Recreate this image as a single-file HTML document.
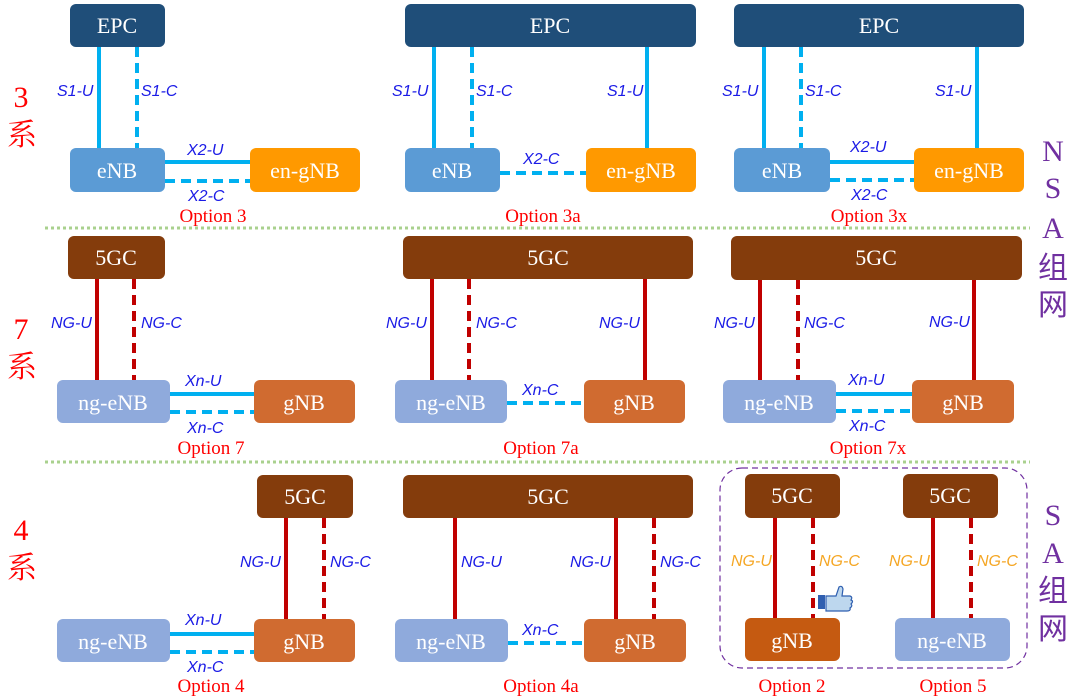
<!DOCTYPE html>
<html><head><meta charset="utf-8"><style>
html,body{margin:0;padding:0;background:#fff}
svg{display:block}
.bt{font-family:"Liberation Serif",serif;font-size:22px;fill:#fff;text-anchor:middle}
.lb{font-family:"Liberation Sans",sans-serif;font-style:italic;font-size:16px;fill:#1a1ae6}
.lo{font-family:"Liberation Sans",sans-serif;font-style:italic;font-size:16px;fill:#f5a623}
.op{font-family:"Liberation Serif",serif;font-size:19px;fill:#f00;text-anchor:middle}
.sd{font-family:"Liberation Serif","Noto Serif CJK SC",serif;font-size:30px;fill:#f00;text-anchor:middle}
.pu{font-family:"Liberation Serif","Noto Sans CJK SC",serif;font-size:30px;fill:#7030a0;text-anchor:middle}
</style></head><body>
<svg width="1080" height="698" viewBox="0 0 1080 698" xmlns="http://www.w3.org/2000/svg">
<g stroke="#a9d18e" stroke-width="3" stroke-dasharray="3 3">
<line x1="45" y1="228" x2="1030" y2="228"/><line x1="45" y1="462" x2="1030" y2="462"/>
</g>
<rect x="720" y="468" width="307" height="200" rx="22" fill="none" stroke="#7030a0" stroke-width="1.2" stroke-dasharray="6 4"/>
<g stroke="#00b0f0" stroke-width="4">
<line x1="99" y1="47" x2="99" y2="148"/><line x1="434" y1="47" x2="434" y2="148"/><line x1="647" y1="47" x2="647" y2="148"/>
<line x1="764" y1="47" x2="764" y2="148"/><line x1="977" y1="47" x2="977" y2="148"/>
<line x1="165" y1="162" x2="250" y2="162"/><line x1="830" y1="162" x2="914" y2="162"/>
<line x1="170" y1="394" x2="255" y2="394"/><line x1="836" y1="394" x2="912" y2="394"/>
<line x1="170" y1="634" x2="255" y2="634"/>
</g>
<g stroke="#00b0f0" stroke-width="4" stroke-dasharray="10 6">
<line x1="137" y1="47" x2="137" y2="148"/><line x1="472" y1="47" x2="472" y2="148"/><line x1="801" y1="47" x2="801" y2="148"/>
<line x1="165" y1="181" x2="250" y2="181"/><line x1="500" y1="173" x2="586" y2="173"/><line x1="830" y1="180" x2="914" y2="180"/>
<line x1="170" y1="412" x2="255" y2="412"/><line x1="507" y1="403" x2="584" y2="403"/><line x1="836" y1="411" x2="912" y2="411"/>
<line x1="170" y1="652" x2="255" y2="652"/><line x1="508" y1="643" x2="584" y2="643"/>
</g>
<g stroke="#c00000" stroke-width="4">
<line x1="97" y1="279" x2="97" y2="380"/><line x1="432" y1="279" x2="432" y2="380"/><line x1="645" y1="279" x2="645" y2="380"/>
<line x1="760" y1="279" x2="760" y2="380"/><line x1="974" y1="279" x2="974" y2="380"/>
<line x1="286" y1="518" x2="286" y2="620"/><line x1="455" y1="518" x2="455" y2="620"/><line x1="616" y1="518" x2="616" y2="620"/>
<line x1="775" y1="518" x2="775" y2="618"/><line x1="933" y1="518" x2="933" y2="618"/>
</g>
<g stroke="#c00000" stroke-width="4" stroke-dasharray="10 6">
<line x1="134" y1="279" x2="134" y2="380"/><line x1="469" y1="279" x2="469" y2="380"/><line x1="798" y1="279" x2="798" y2="380"/>
<line x1="324" y1="518" x2="324" y2="620"/><line x1="654" y1="518" x2="654" y2="620"/>
<line x1="813" y1="518" x2="813" y2="618"/><line x1="971" y1="518" x2="971" y2="618"/>
</g>
<g fill="#1f4e79">
<rect x="70" y="4" width="95" height="43" rx="6"/><rect x="405" y="4" width="291" height="43" rx="6"/><rect x="734" y="4" width="290" height="43" rx="6"/>
</g>
<g fill="#5b9bd5">
<rect x="70" y="148" width="95" height="44" rx="6"/><rect x="405" y="148" width="95" height="44" rx="6"/><rect x="734" y="148" width="96" height="44" rx="6"/>
</g>
<g fill="#ff9900">
<rect x="250" y="148" width="110" height="44" rx="6"/><rect x="586" y="148" width="110" height="44" rx="6"/><rect x="914" y="148" width="110" height="44" rx="6"/>
</g>
<g fill="#843c0c">
<rect x="68" y="236" width="97" height="43" rx="6"/><rect x="403" y="236" width="290" height="43" rx="6"/><rect x="731" y="236" width="291" height="44" rx="6"/>
<rect x="257" y="475" width="96" height="43" rx="6"/><rect x="403" y="475" width="290" height="43" rx="6"/>
<rect x="745" y="474" width="95" height="44" rx="6"/><rect x="903" y="474" width="95" height="44" rx="6"/>
</g>
<g fill="#8faadc">
<rect x="57" y="380" width="113" height="43" rx="6"/><rect x="395" y="380" width="112" height="43" rx="6"/><rect x="723" y="380" width="113" height="43" rx="6"/>
<rect x="57" y="619" width="113" height="43" rx="6"/><rect x="395" y="619" width="113" height="43" rx="6"/><rect x="895" y="618" width="115" height="43" rx="6"/>
</g>
<g fill="#d06b30">
<rect x="254" y="380" width="101" height="43" rx="6"/><rect x="584" y="380" width="101" height="43" rx="6"/><rect x="912" y="380" width="102" height="43" rx="6"/>
<rect x="254" y="619" width="101" height="43" rx="6"/><rect x="584" y="619" width="102" height="43" rx="6"/>
</g>
<rect x="745" y="618" width="95" height="43" rx="6" fill="#c55a11"/>
<g class="bt">
<text x="117" y="33">EPC</text><text x="550" y="33">EPC</text><text x="879" y="33">EPC</text>
<text x="117" y="178">eNB</text><text x="452" y="178">eNB</text><text x="782" y="178">eNB</text>
<text x="305" y="178">en-gNB</text><text x="641" y="178">en-gNB</text><text x="969" y="178">en-gNB</text>
<text x="116" y="265">5GC</text><text x="548" y="265">5GC</text><text x="876" y="265">5GC</text>
<text x="113" y="410">ng-eNB</text><text x="451" y="410">ng-eNB</text><text x="779" y="410">ng-eNB</text>
<text x="304" y="410">gNB</text><text x="634" y="410">gNB</text><text x="963" y="410">gNB</text>
<text x="305" y="504">5GC</text><text x="548" y="504">5GC</text><text x="792" y="503">5GC</text><text x="950" y="503">5GC</text>
<text x="113" y="649">ng-eNB</text><text x="451" y="649">ng-eNB</text><text x="952" y="648">ng-eNB</text>
<text x="304" y="649">gNB</text><text x="635" y="649">gNB</text><text x="792" y="648">gNB</text>
</g>
<g class="lb">
<text x="57" y="96">S1-U</text><text x="141" y="96">S1-C</text>
<text x="392" y="96">S1-U</text><text x="476" y="96">S1-C</text><text x="607" y="96">S1-U</text>
<text x="722" y="96">S1-U</text><text x="805" y="96">S1-C</text><text x="935" y="96">S1-U</text>
<text x="187" y="155">X2-U</text><text x="188" y="201">X2-C</text>
<text x="523" y="164">X2-C</text>
<text x="850" y="152">X2-U</text><text x="851" y="200">X2-C</text>
<text x="51" y="328">NG-U</text><text x="141" y="328">NG-C</text>
<text x="386" y="328">NG-U</text><text x="476" y="328">NG-C</text><text x="599" y="328">NG-U</text>
<text x="714" y="328">NG-U</text><text x="804" y="328">NG-C</text><text x="929" y="327">NG-U</text>
<text x="185" y="386">Xn-U</text><text x="187" y="433">Xn-C</text>
<text x="522" y="395">Xn-C</text>
<text x="848" y="385">Xn-U</text><text x="849" y="431">Xn-C</text>
<text x="240" y="567">NG-U</text><text x="330" y="567">NG-C</text>
<text x="461" y="567">NG-U</text><text x="570" y="567">NG-U</text><text x="660" y="567">NG-C</text>
<text x="185" y="625">Xn-U</text><text x="187" y="672">Xn-C</text>
<text x="522" y="635">Xn-C</text>
</g>
<g class="lo">
<text x="731" y="566">NG-U</text><text x="819" y="566">NG-C</text>
<text x="889" y="566">NG-U</text><text x="977" y="566">NG-C</text>
</g>
<g transform="translate(818,585)">
<rect x="0" y="10" width="7" height="14" fill="#2f5fb0"/>
<path d="M8 11 h10 l3 -9 q3 -2 4 2 l-1 7 h8 q3 1 1 4 q3 1 0 4 q2 2 -1 4 q1 3 -3 3 h-21 z" fill="#bdd7ee" stroke="#2f5fb0" stroke-width="1.2"/>
</g>
<g class="op">
<text x="213" y="222">Option 3</text><text x="543" y="222">Option 3a</text><text x="869" y="222">Option 3x</text>
<text x="211" y="454">Option 7</text><text x="541" y="454">Option 7a</text><text x="868" y="454">Option 7x</text>
<text x="211" y="692">Option 4</text><text x="541" y="692">Option 4a</text><text x="792" y="692">Option 2</text><text x="953" y="692">Option 5</text>
</g>
<g class="sd">
<text x="21" y="107">3</text><text x="22" y="145">系</text>
<text x="21" y="339">7</text><text x="22" y="377">系</text>
<text x="21" y="540">4</text><text x="22" y="578">系</text>
</g>
<g class="pu">
<text x="1053" y="161">N</text><text x="1053" y="198">S</text><text x="1053" y="238">A</text><text x="1053" y="278">组</text><text x="1053" y="315">网</text>
<text x="1053" y="525">S</text><text x="1053" y="563">A</text><text x="1053" y="601">组</text><text x="1053" y="639">网</text>
</g>
</svg>
</body></html>
